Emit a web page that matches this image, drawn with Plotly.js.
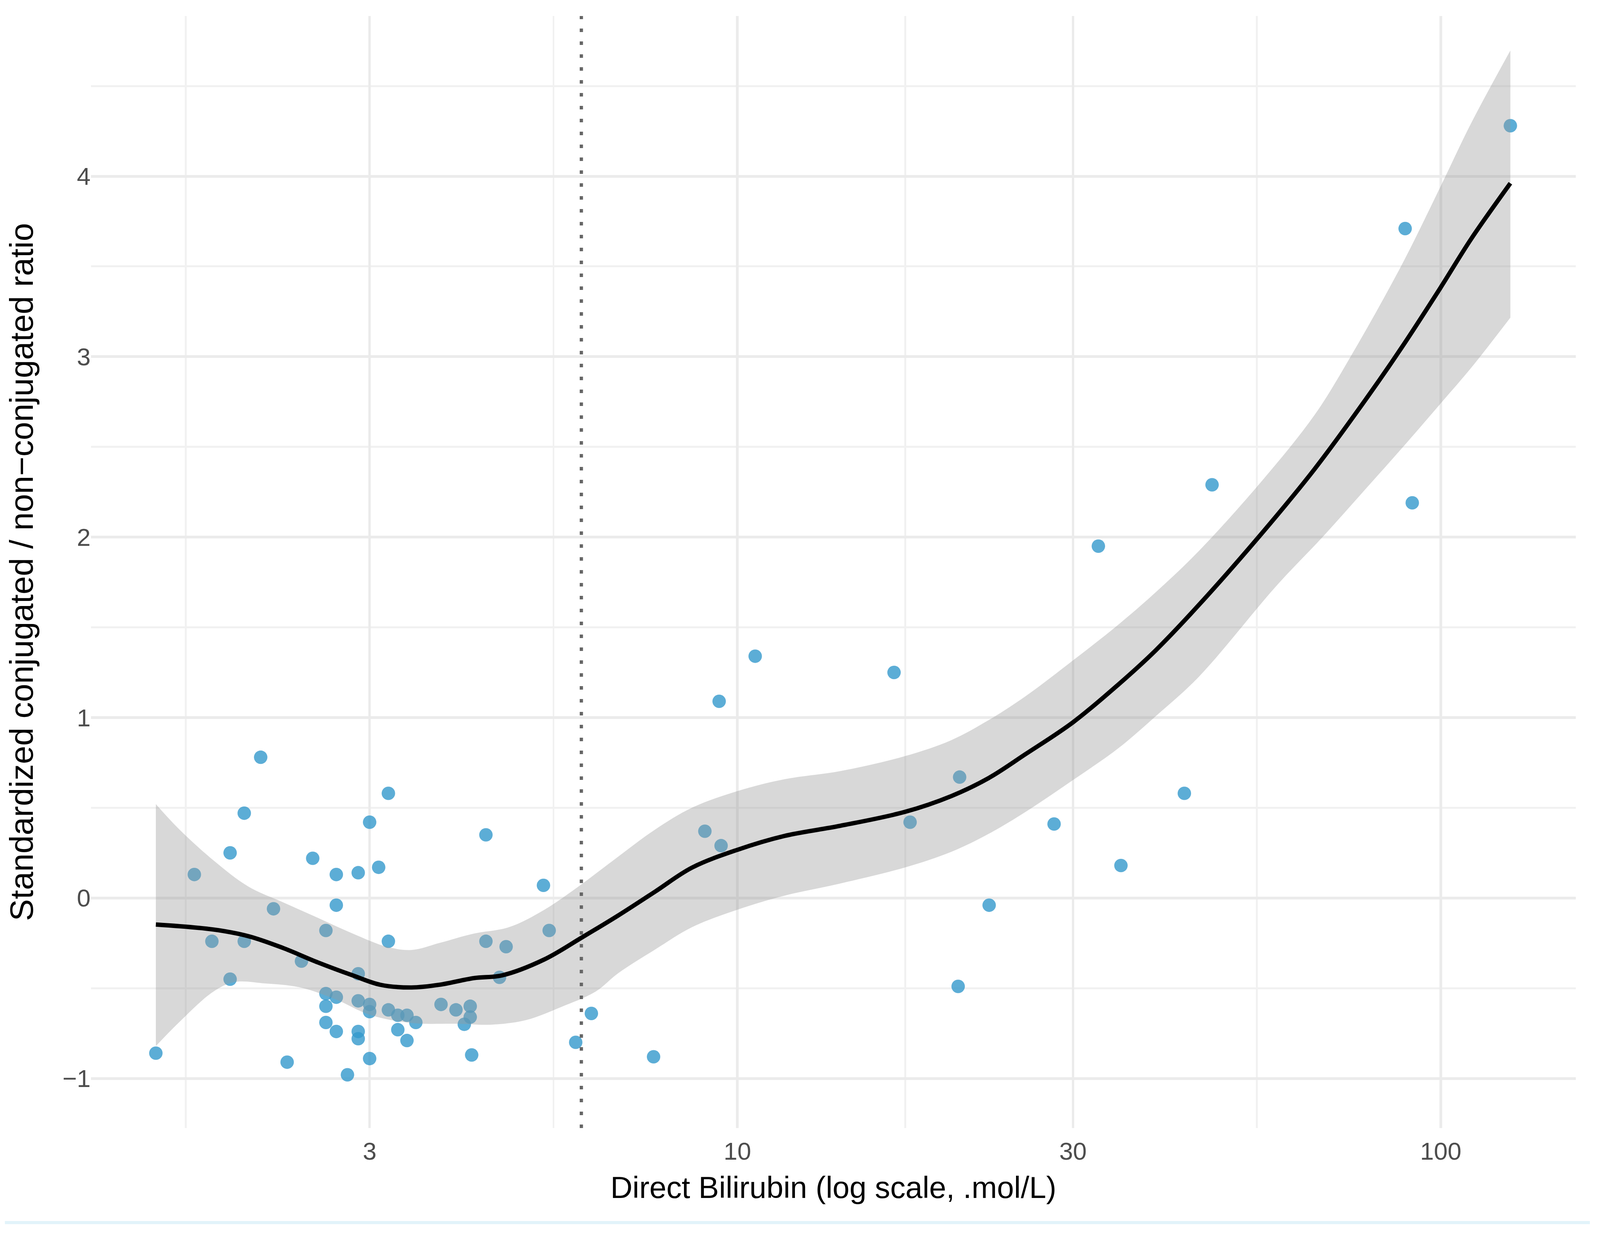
<!DOCTYPE html>
<html>
<head>
<meta charset="utf-8">
<script src="https://cdn.plot.ly/plotly-3.0.1.min.js"></script>
<style>
  html, body { margin: 0; padding: 0; background: #ffffff; overflow: hidden; }
  #chart { width: 100vw; height: 100vh; }
</style>
</head>
<body>
<div id="chart"></div>
<script>
// observed points: direct bilirubin (umol/L) vs standardized ratio
var bilirubin = [
  1.49, 1.69, 1.79, 1.90, 1.90, 1.99, 1.99, 2.10, 2.19, 2.29,
  2.40, 2.49, 2.60, 2.60, 2.60, 2.60, 2.69, 2.69, 2.69, 2.69,
  2.79, 2.89, 2.89, 2.89, 2.89, 2.89, 3.00, 3.00, 3.00, 3.00,
  3.09, 3.19, 3.19, 3.19, 3.29, 3.29, 3.39, 3.39, 3.49, 3.79,
  3.98, 4.09, 4.17, 4.17, 4.19, 4.39, 4.39, 4.59, 4.69, 5.30,
  5.40, 5.89, 6.20, 7.60, 8.99, 9.42, 9.48, 10.6, 16.7, 17.6,
  20.6, 20.7, 22.8, 28.2, 32.6, 35.1, 43.2, 47.3, 89.0, 91.1,
  125.6
];
var ratio = [
  -0.86, 0.13, -0.24, 0.25, -0.45, 0.47, -0.24, 0.78, -0.06, -0.91,
  -0.35, 0.22, -0.18, -0.53, -0.60, -0.69, 0.13, -0.04, -0.55, -0.74,
  -0.98, 0.14, -0.42, -0.57, -0.74, -0.78, 0.42, -0.59, -0.63, -0.89,
  0.17, 0.58, -0.24, -0.62, -0.65, -0.73, -0.65, -0.79, -0.69, -0.59,
  -0.62, -0.70, -0.60, -0.66, -0.87, 0.35, -0.24, -0.44, -0.27, 0.07,
  -0.18, -0.80, -0.64, -0.88, 0.37, 1.09, 0.29, 1.34, 1.25, 0.42,
  -0.49, 0.67, -0.04, 0.41, 1.95, 0.18, 0.58, 2.29, 3.71, 2.19,
  4.28
];

// smoothed fit
var fitX = [
  1.49, 1.80, 2.018, 2.259, 2.532, 2.838, 3.107, 3.442, 3.772, 4.222,
  4.627, 5.306, 6.010, 6.763, 7.637, 8.617, 10.0, 11.67, 14.0, 17.3,
  20.15, 22.75, 25.68, 30.01, 34.83, 39.32, 45.35, 55.78, 66.16, 78.46,
  87.94, 99.88, 110.4, 125.6
];
var fitY = [
  -0.147, -0.175, -0.212, -0.277, -0.357, -0.429, -0.481, -0.496, -0.481, -0.444,
  -0.429, -0.342, -0.219, -0.098, 0.035, 0.168, 0.267, 0.344, 0.400, 0.477,
  0.565, 0.664, 0.797, 0.974, 1.184, 1.372, 1.626, 2.025, 2.377, 2.770,
  3.049, 3.381, 3.651, 3.961
];

// confidence band
var upperX = [
  1.49, 1.606, 1.80, 2.018, 2.259, 2.532, 2.838, 3.178, 3.442, 3.772,
  4.222, 4.733, 5.306, 5.940, 6.658, 7.637, 8.617, 10.0, 11.67, 14.0,
  17.3, 20.15, 22.75, 25.68, 30.01, 34.83, 39.32, 45.35, 55.78, 66.16,
  74.13, 87.94, 99.88, 110.4, 125.6
];
var upperY = [
  0.520, 0.383, 0.208, 0.063, -0.024, -0.110, -0.197, -0.271, -0.288, -0.249,
  -0.197, -0.162, -0.067, 0.063, 0.208, 0.379, 0.500, 0.592, 0.658, 0.703,
  0.786, 0.875, 0.985, 1.118, 1.317, 1.516, 1.694, 1.925, 2.315, 2.677,
  2.988, 3.506, 3.941, 4.292, 4.697
];
var lowerX = [
  1.49, 1.606, 1.80, 1.926, 2.133, 2.391, 2.681, 3.005, 3.442, 3.993,
  4.470, 5.011, 5.617, 6.290, 6.763, 7.637, 8.617, 10.0, 11.67, 14.0,
  17.3, 20.15, 22.75, 25.68, 30.01, 34.83, 39.32, 45.35, 58.34, 68.42,
  78.46, 87.94, 99.88, 110.4, 125.6
];
var lowerY = [
  -0.821, -0.691, -0.518, -0.466, -0.474, -0.496, -0.561, -0.648, -0.693, -0.697,
  -0.702, -0.676, -0.604, -0.518, -0.418, -0.286, -0.162, -0.065, 0.013, 0.080,
  0.169, 0.256, 0.355, 0.477, 0.654, 0.831, 1.007, 1.228, 1.728, 2.014,
  2.273, 2.490, 2.739, 2.937, 3.216
];

var cutoff = 6;

var xTicks = [3, 10, 30, 100];
var xMinor = [1.643, 5.477, 17.32, 54.77];
var yTicks = [-1, 0, 1, 2, 3, 4];
var yMinor = [-0.5, 0.5, 1.5, 2.5, 3.5, 4.5];
var yRange = [-1.275, 4.888];

var font = 'Liberation Sans, Arial, sans-serif';

// sizes below are in pixels of a 4404 x 3171 picture; scale to the real window
var W = window.innerWidth || 4404;
var H = window.innerHeight || 3171;
var k = W / 4404;
var kv = H / 3171;

var points = {
  x: bilirubin, y: ratio,
  type: 'scatter', mode: 'markers',
  marker: { size: 37 * k, color: 'rgba(51,153,204,0.8)', line: { width: 0 } },
  hoverinfo: 'skip'
};
var bandLow = {
  x: lowerX, y: lowerY,
  type: 'scatter', mode: 'lines',
  line: { width: 0, shape: 'spline', smoothing: 1 },
  hoverinfo: 'skip'
};
var bandHigh = {
  x: upperX, y: upperY,
  type: 'scatter', mode: 'lines',
  line: { width: 0, shape: 'spline', smoothing: 1 },
  fill: 'tonexty', fillcolor: 'rgba(153,153,153,0.38)',
  hoverinfo: 'skip'
};
var fit = {
  x: fitX, y: fitY,
  type: 'scatter', mode: 'lines',
  line: { color: '#000000', width: 12 * k, shape: 'spline', smoothing: 1 },
  hoverinfo: 'skip'
};
var vline = {
  x: [cutoff, cutoff], y: yRange,
  type: 'scatter', mode: 'lines',
  line: { color: '#666666', width: 9 * k, dash: (9 * kv) + 'px,' + (24 * kv) + 'px' },
  hoverinfo: 'skip'
};

var layout = {
  width: W,
  height: H,
  showlegend: false,
  paper_bgcolor: '#ffffff',
  plot_bgcolor: '#ffffff',
  margin: { l: 250 * k, r: 67 * k, t: 41 * kv, b: 284 * kv },
  font: { family: font },
  xaxis: {
    type: 'log',
    range: [0.081, 2.192],
    tickvals: xTicks,
    ticktext: xTicks.map(String),
    ticks: '',
    ticklabelstandoff: 17 * kv,
    tickfont: { size: 68 * k, color: '#4D4D4D', family: font },
    showgrid: true, gridcolor: '#EBEBEB', gridwidth: 7 * k,
    minor: { tickvals: xMinor, showgrid: true, gridcolor: '#F1F1F1', gridwidth: 5 * k, ticks: '' },
    zeroline: false, showline: false,
    title: {
      text: 'Direct Bilirubin (log scale, .mol/L)',
      font: { size: 84 * k, color: '#000000', family: font },
      standoff: 31 * kv
    }
  },
  yaxis: {
    range: yRange,
    tickvals: yTicks,
    ticks: '',
    ticklabelstandoff: 42 * k,
    tickfont: { size: 68 * k, color: '#4D4D4D', family: font },
    showgrid: true, gridcolor: '#EBEBEB', gridwidth: 7 * kv,
    minor: { tickvals: yMinor, showgrid: true, gridcolor: '#F1F1F1', gridwidth: 5 * kv, ticks: '' },
    zeroline: false, showline: false,
    title: {
      text: 'Standardized conjugated / non\u2212conjugated ratio',
      font: { size: 84 * kv, color: '#000000', family: font },
      standoff: 50 * k
    }
  },
  shapes: [
    {
      type: 'line', xref: 'paper', yref: 'paper',
      x0: -0.058, x1: 1.0095, y0: -0.085, y1: -0.085,
      line: { color: '#E2F3FA', width: 8 * kv }
    }
  ]
};

Plotly.newPlot(document.getElementById('chart'), [points, bandLow, bandHigh, fit, vline], layout,
  { staticPlot: true, displayModeBar: false });
</script>
</body>
</html>
